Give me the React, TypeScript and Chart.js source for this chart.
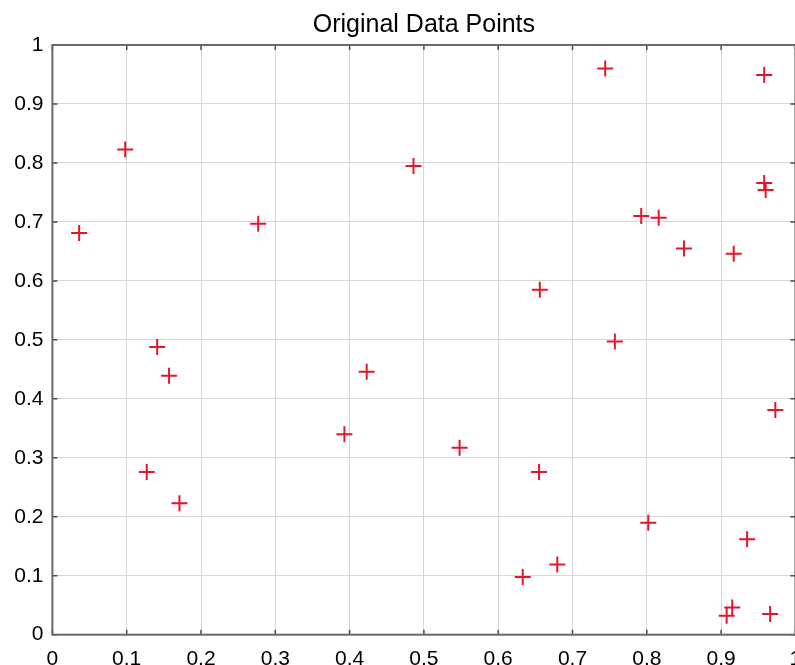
import { useEffect, useRef } from "react";
import { Chart, registerables } from "chart.js";

Chart.register(...registerables);

const titleText = "Original Data Points";

const xValues = [
  0.036, 0.098, 0.277, 0.486, 0.656, 0.744, 0.958, 0.958, 0.96, 0.7925,
  0.816, 0.85, 0.917, 0.141, 0.157, 0.127, 0.171, 0.423, 0.393, 0.548,
  0.655, 0.633, 0.757, 0.973, 0.802, 0.935, 0.6795, 0.9075, 0.915, 0.966,
];
const yValues = [
  0.681, 0.823, 0.697, 0.795, 0.585, 0.96, 0.949, 0.766, 0.754, 0.71,
  0.707, 0.655, 0.646, 0.488, 0.439, 0.276, 0.223, 0.446, 0.34, 0.317,
  0.276, 0.098, 0.497, 0.381, 0.19, 0.162, 0.119, 0.032, 0.046, 0.035,
];

const xTicks = [0, 0.1, 0.2, 0.3, 0.4, 0.5, 0.6, 0.7, 0.8, 0.9, 1];
const yTicks = [0, 0.1, 0.2, 0.3, 0.4, 0.5, 0.6, 0.7, 0.8, 0.9, 1];

const FONT = '"Liberation Sans", Arial, sans-serif';

const framePlugin = {
  id: "matlabFrame",
  beforeDatasetsDraw(chart: any) {
    const { ctx, chartArea: a, scales } = chart;
    ctx.save();
    ctx.strokeStyle = "#4a4a4a";
    ctx.lineWidth = 1.5;
    const tl = 5;
    ctx.beginPath();
    for (const v of xTicks) {
      const px = scales.x.getPixelForValue(v);
      ctx.moveTo(px, a.bottom);
      ctx.lineTo(px, a.bottom - tl);
      ctx.moveTo(px, a.top);
      ctx.lineTo(px, a.top + tl);
    }
    for (const v of yTicks) {
      const py = scales.y.getPixelForValue(v);
      ctx.moveTo(a.left, py);
      ctx.lineTo(a.left + tl, py);
      ctx.moveTo(a.right, py);
      ctx.lineTo(a.right - tl, py);
    }
    ctx.stroke();
    ctx.strokeStyle = "#6a6a6a";
    ctx.lineWidth = 2;
    ctx.strokeRect(a.left, a.top, a.right - a.left, a.bottom - a.top);
    ctx.restore();
  },
  afterDraw(chart: any) {
    const { ctx, chartArea: a } = chart;
    ctx.save();
    ctx.fillStyle = "#000";
    ctx.font = `25px ${FONT}`;
    ctx.textAlign = "center";
    ctx.textBaseline = "alphabetic";
    ctx.fillText(titleText, (a.left + a.right) / 2, 32);
    ctx.restore();
  },
};

const fmt = (v: any) => {
  const n = Number(v);
  return Number(n.toFixed(1)).toString();
};

export default function App() {
  const ref = useRef<HTMLCanvasElement | null>(null);

  useEffect(() => {
    if (!ref.current) return;
    const data = xValues.map((x, i) => ({ x, y: yValues[i] }));
    const chart = new Chart(ref.current, {
      type: "scatter",
      data: {
        datasets: [
          {
            label: "points",
            data,
            pointStyle: "cross",
            pointRadius: 8,
            borderWidth: 2,
            borderColor: "#e3162e",
            backgroundColor: "#e3162e",
          },
        ],
      },
      options: {
        responsive: false,
        animation: false,
        events: [],
        layout: { padding: { top: 45, left: 0, right: 44.6, bottom: 0 } },
        plugins: {
          legend: { display: false },
          title: { display: false },
          tooltip: { enabled: false },
        },
        scales: {
          x: {
            type: "linear",
            min: 0,
            max: 1,
            position: "bottom",
            afterBuildTicks: (s: any) => {
              s.ticks = xTicks.map((v) => ({ value: v }));
            },
            afterFit: (s: any) => {
              s.height = 30.3;
            },
            grid: { color: "#d6d6d6", lineWidth: 1, drawTicks: false },
            border: { display: false },
            ticks: {
              autoSkip: false,
              maxRotation: 0,
              padding: 12,
              color: "#000",
              font: { family: FONT, size: 21 },
              callback: fmt,
            },
          },
          y: {
            type: "linear",
            min: 0,
            max: 1,
            position: "left",
            afterBuildTicks: (s: any) => {
              s.ticks = yTicks.map((v) => ({ value: v }));
            },
            afterFit: (s: any) => {
              s.width = 52.4;
            },
            grid: { color: "#d6d6d6", lineWidth: 1, drawTicks: false },
            border: { display: false },
            ticks: {
              autoSkip: false,
              padding: 9,
              color: "#000",
              font: { family: FONT, size: 21 },
              callback: fmt,
            },
          },
        },
      },
      plugins: [framePlugin],
    });
    return () => chart.destroy();
  }, []);

  return (
    <div
      style={{
        position: "fixed",
        left: 0,
        top: 0,
        width: 795,
        height: 665,
        overflow: "hidden",
        background: "#fff",
      }}
    >
      <canvas ref={ref} width={840} height={665} style={{ width: 840, height: 665, display: "block" }} />
    </div>
  );
}
